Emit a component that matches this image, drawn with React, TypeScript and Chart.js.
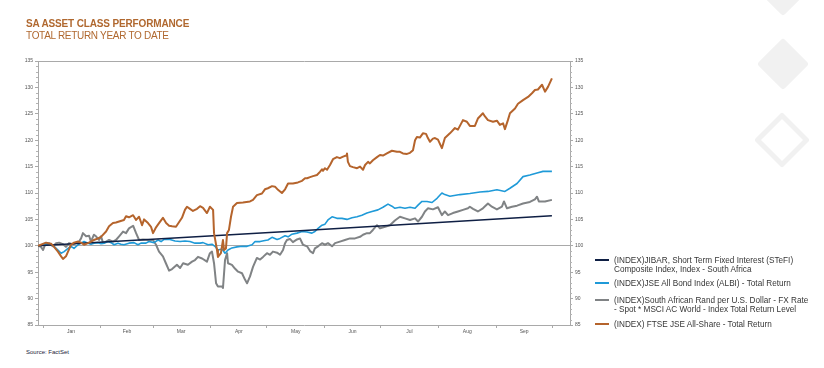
import React, { useEffect, useRef } from 'react';
import { Chart, registerables } from 'chart.js';

Chart.register(...registerables);

const FONT = '"Liberation Sans", Arial, sans-serif';

const titleText = 'SA ASSET CLASS PERFORMANCE';
const subtitleText = 'TOTAL RETURN YEAR TO DATE';
const sourceText = 'Source: FactSet';

const monthLabels = ['Jan', 'Feb', 'Mar', 'Apr', 'May', 'Jun', 'Jul', 'Aug', 'Sep'];
const monthMidDays = [15, 45, 74, 105, 135.5, 166, 196.5, 227.5, 258];
const monthStartDays = [0, 31, 59, 90, 120, 151, 181, 212, 243, 273];
const xMin = -2.7;
const xMax = 282.6;
const yMin = 85;
const yMax = 135;
const yStep = 5;

const seriesNames = [
  ['(INDEX)JIBAR, Short Term Fixed Interest (STeFI)', 'Composite Index, Index - South Africa'],
  ['(INDEX)JSE All Bond Index (ALBI) - Total Return'],
  ['(INDEX)South African Rand per U.S. Dollar - FX Rate', '- Spot * MSCI AC World - Index Total Return Level'],
  ['(INDEX) FTSE JSE All-Share - Total Return'],
];
const seriesColors = ['#0f1f44', '#1f9ad8', '#808385', '#b5642c'];

// [day of year, index level]
const jibarSeries: [number, number][] = [
  [-2.7, 100.0], [68.1, 101.45], [137.8, 102.85], [207.5, 104.3], [272.9, 105.7],
];

const albiSeries: [number, number][] = [
  [-2.7, 100.0], [0, 100.2], [3.2, 100.5], [5.9, 99.9], [8.0, 99.2], [9.7, 98.6], [11.3, 98.9], [13.4, 99.5],
  [15.0, 99.9], [16.6, 99.5], [18.8, 100.2], [20.4, 100.5], [22.0, 100.8], [24.1, 100.5], [25.7, 100.3],
  [27.3, 100.5], [29.5, 100.6], [31.1, 100.4], [32.7, 100.5], [34.9, 100.8], [36.5, 100.6], [38.1, 100.2],
  [40.2, 100.5], [41.8, 100.3], [43.4, 100.2], [46.1, 100.5], [48.8, 100.6], [50.9, 100.2], [52.5, 100.5],
  [55.2, 100.5], [56.8, 100.8], [59.5, 100.6], [61.7, 101.1], [63.3, 100.8], [64.9, 101.2], [68.1, 101.2],
  [70.8, 100.9], [73.5, 100.8], [76.1, 100.9], [78.8, 100.8], [81.5, 100.5], [84.2, 100.5], [85.8, 100.6],
  [88.5, 100.2], [90.6, 100.3], [92.2, 99.9], [93.8, 99.2], [96.0, 99.4], [97.6, 98.6], [99.2, 99.2],
  [101.3, 99.6], [104.0, 99.8], [106.7, 99.9], [109.4, 99.9], [112.1, 100.2], [113.7, 100.8], [116.4, 100.8],
  [119.0, 101.0], [120.6, 101.1], [122.8, 101.6], [125.5, 101.2], [127.1, 101.4], [129.8, 101.9],
  [131.4, 101.7], [133.5, 102.2], [136.2, 102.4], [138.9, 102.7], [141.6, 102.6], [144.2, 102.4],
  [145.8, 102.7], [147.5, 103.3], [149.6, 103.9], [151.2, 104.1], [152.8, 104.9], [155.0, 105.5],
  [157.6, 105.2], [160.3, 105.2], [163.0, 105.0], [165.7, 105.3], [168.4, 105.5], [171.0, 105.8],
  [173.7, 106.2], [176.4, 106.5], [179.6, 106.8], [182.3, 107.3], [185.0, 107.9], [187.1, 107.5],
  [188.7, 107.1], [191.4, 107.3], [194.1, 107.1], [196.8, 107.3], [199.5, 107.1], [201.1, 107.7],
  [203.2, 108.4], [205.9, 108.4], [208.6, 108.2], [211.3, 109.0], [213.9, 110.0], [215.5, 109.7],
  [218.2, 109.4], [223.6, 109.7], [228.9, 109.9], [234.3, 110.2], [238.6, 110.3], [243.4, 110.6],
  [247.7, 110.3], [250.4, 110.9], [254.2, 111.8], [257.4, 113.1], [261.1, 113.4], [264.9, 113.8],
  [268.1, 114.1], [272.9, 114.1],
];

const randMsciSeries: [number, number][] = [
  [-2.7, 100.0], [-1.1, 99.8], [0, 99.2], [1.1, 100.2], [3.2, 100.4], [5.4, 99.9], [7.0, 100.5], [8.6, 100.6],
  [10.7, 100.3], [12.3, 99.8], [13.9, 100.5], [16.1, 100.3], [17.7, 100.5], [19.3, 100.8], [20.4, 101.4],
  [21.4, 102.4], [23.1, 101.8], [24.7, 101.9], [25.7, 100.8], [27.3, 102.1], [28.4, 101.8], [30.0, 101.1],
  [31.1, 101.8], [32.2, 100.5], [33.8, 100.8], [35.4, 101.1], [37.5, 100.8], [39.1, 101.1], [40.8, 101.8],
  [42.9, 102.7], [44.5, 102.4], [46.1, 103.3], [48.3, 103.8], [49.9, 102.4], [51.5, 101.1], [53.6, 101.2],
  [56.3, 101.1], [59.0, 101.1], [60.6, 100.2], [62.2, 98.9], [64.3, 98.0], [66.0, 96.6], [67.6, 95.3],
  [69.2, 95.6], [71.8, 96.4], [73.5, 95.8], [75.1, 96.7], [77.7, 96.4], [79.9, 97.0], [81.5, 97.3],
  [83.1, 97.9], [85.3, 97.6], [87.9, 97.0], [89.5, 98.6], [90.6, 98.9], [91.7, 96.7], [92.8, 92.9],
  [93.8, 92.3], [96.0, 92.3], [96.5, 92.0], [97.6, 97.3], [98.7, 98.6], [99.2, 96.7], [101.3, 96.4],
  [102.9, 95.7], [104.6, 95.1], [106.7, 94.8], [108.3, 93.6], [109.4, 92.9], [111.0, 94.2], [112.6, 96.0],
  [114.7, 97.7], [116.4, 97.4], [118.0, 97.9], [120.1, 98.6], [121.7, 98.3], [123.3, 98.9], [125.5, 98.7],
  [127.1, 98.3], [128.7, 99.2], [129.8, 100.5], [130.8, 101.1], [132.4, 101.3], [134.0, 100.7],
  [136.2, 101.2], [137.8, 101.4], [139.4, 100.2], [141.6, 99.9], [143.2, 99.0], [144.8, 98.6],
  [145.8, 99.5], [147.5, 99.9], [149.6, 100.5], [151.2, 100.2], [152.8, 100.5], [155.0, 99.9],
  [156.6, 100.5], [159.2, 100.8], [161.9, 101.1], [164.6, 101.4], [167.3, 101.4], [170.0, 101.7],
  [171.6, 102.1], [173.7, 102.4], [175.3, 102.4], [176.9, 103.0], [179.1, 103.9], [180.7, 103.3],
  [183.4, 103.6], [186.0, 103.9], [188.7, 104.8], [191.4, 105.5], [194.1, 105.2], [196.8, 104.9],
  [199.5, 105.2], [201.1, 104.6], [203.2, 105.5], [204.8, 106.5], [206.4, 107.1], [209.1, 106.9],
  [211.8, 107.3], [213.9, 105.8], [215.5, 106.5], [217.2, 105.8], [219.8, 106.2], [222.5, 106.5],
  [225.2, 106.8], [227.9, 107.1], [228.9, 107.4], [230.6, 107.0], [233.2, 106.5], [235.9, 107.1],
  [238.6, 108.0], [240.7, 107.4], [243.4, 106.9], [246.1, 107.4], [247.2, 108.4], [248.8, 107.1],
  [251.5, 107.4], [254.2, 107.6], [257.4, 108.0], [261.1, 108.3], [263.8, 108.8], [264.9, 109.3],
  [265.9, 108.4], [269.2, 108.4], [272.9, 108.7],
];

const ftseJseSeries: [number, number][] = [
  [-2.7, 100.0], [1.6, 100.6], [4.3, 100.4], [5.9, 99.8], [8.0, 98.9], [9.7, 98.0], [10.7, 97.5], [12.3, 98.0],
  [13.4, 98.9], [15.0, 100.2], [16.6, 100.6], [18.8, 100.8], [20.4, 100.6], [22.0, 100.2], [24.1, 100.5],
  [25.7, 100.8], [27.3, 101.1], [29.5, 101.4], [31.1, 101.7], [33.8, 102.7], [35.4, 103.7], [37.5, 104.3],
  [39.1, 104.4], [40.8, 104.6], [43.4, 104.9], [44.5, 105.6], [46.1, 105.4], [48.3, 105.8], [49.9, 104.9],
  [51.5, 105.5], [53.1, 103.9], [54.2, 105.0], [56.3, 104.3], [57.9, 103.6], [59.0, 102.4], [60.6, 103.5],
  [62.2, 104.3], [64.3, 105.3], [66.0, 104.3], [67.6, 103.8], [69.2, 103.7], [71.3, 103.6], [74.5, 105.3],
  [76.1, 106.8], [77.2, 107.4], [78.8, 107.0], [80.4, 106.6], [82.6, 107.0], [84.2, 107.5], [85.8, 107.2],
  [87.9, 106.2], [89.5, 107.4], [91.2, 106.8], [91.7, 102.4], [93.3, 99.2], [93.8, 97.9], [95.4, 98.6],
  [96.5, 101.1], [97.1, 99.2], [98.1, 99.5], [98.7, 102.4], [99.7, 103.0], [100.8, 105.5], [101.9, 107.4],
  [104.0, 108.1], [107.2, 108.2], [111.0, 108.4], [112.6, 108.7], [114.7, 109.6], [117.4, 109.9],
  [119.0, 110.7], [120.6, 110.9], [122.8, 111.3], [124.4, 111.2], [126.0, 110.6], [128.1, 110.0],
  [129.8, 110.7], [131.4, 111.8], [134.0, 111.8], [136.7, 112.0], [138.9, 112.3], [140.5, 112.8],
  [141.6, 112.8], [143.2, 113.0], [144.8, 113.2], [146.9, 113.4], [148.5, 114.0], [149.6, 114.5],
  [150.1, 114.2], [151.2, 114.7], [152.3, 114.4], [153.9, 115.3], [155.5, 116.4], [157.6, 116.8],
  [159.2, 116.6], [160.9, 116.9], [162.5, 117.1], [163.0, 117.5], [163.5, 115.9], [164.6, 115.1],
  [166.2, 114.9], [168.4, 114.7], [170.0, 115.0], [171.6, 114.4], [172.7, 115.3], [174.3, 115.9],
  [175.3, 115.6], [176.9, 116.2], [179.1, 116.8], [180.7, 117.2], [182.3, 117.1], [184.4, 117.5],
  [187.1, 118.0], [189.8, 117.8], [191.4, 117.8], [193.0, 117.5], [195.2, 117.4], [196.8, 117.6],
  [198.4, 118.1], [199.5, 120.0], [200.5, 120.6], [202.1, 120.5], [203.7, 121.3], [205.4, 121.2],
  [206.4, 120.4], [207.5, 119.7], [209.1, 120.3], [210.2, 120.4], [211.8, 120.1], [213.9, 118.5],
  [215.5, 120.4], [218.2, 121.3], [220.9, 122.3], [222.5, 122.0], [225.2, 123.8], [227.3, 123.5],
  [228.9, 122.7], [231.6, 122.7], [233.2, 124.1], [235.9, 125.1], [237.0, 124.5], [238.6, 123.8],
  [241.3, 123.5], [243.4, 123.7], [245.0, 122.9], [246.7, 123.2], [247.7, 122.1], [249.3, 123.8],
  [250.4, 125.1], [253.1, 126.0], [254.7, 126.9], [257.4, 127.6], [260.1, 128.2], [262.2, 128.9],
  [263.8, 129.5], [265.4, 129.6], [267.6, 130.5], [269.2, 129.2], [270.8, 130.1], [272.9, 131.7],
];

const toPoints = (s: [number, number][]) => s.map(([x, y]) => ({ x, y }));

const minorTicksPlugin = {
  id: 'minorTicks',
  afterDraw(chart: any) {
    const { ctx, chartArea, scales } = chart;
    const y = scales.y;
    ctx.save();
    ctx.strokeStyle = '#b4b4b4';
    ctx.lineWidth = 1;
    for (let v = yMin; v <= yMax; v += 1) {
      if (v % yStep === 0) continue;
      const py = Math.round(y.getPixelForValue(v)) + 0.5;
      ctx.beginPath();
      ctx.moveTo(chartArea.left - 2, py);
      ctx.lineTo(chartArea.left, py);
      ctx.moveTo(chartArea.right, py);
      ctx.lineTo(chartArea.right + 2, py);
      ctx.stroke();
    }
    ctx.restore();
  },
};

export default function App() {
  const canvasRef = useRef<HTMLCanvasElement | null>(null);

  useEffect(() => {
    if (!canvasRef.current) return;
    const axisColor = '#a9a9a9';
    const tickFont = { size: 5, family: FONT };
    const xTickValues = [...monthStartDays, ...monthMidDays].sort((a, b) => a - b);
    const chart = new Chart(canvasRef.current, {
      type: 'line',
      data: {
        datasets: [
          { label: seriesNames[0].join(' '), data: toPoints(jibarSeries), borderColor: seriesColors[0], borderWidth: 1.5, order: 1 },
          { label: seriesNames[1].join(' '), data: toPoints(albiSeries), borderColor: seriesColors[1], borderWidth: 1.6, order: 2 },
          { label: seriesNames[2].join(' '), data: toPoints(randMsciSeries), borderColor: seriesColors[2], borderWidth: 2, order: 3 },
          { label: seriesNames[3].join(' '), data: toPoints(ftseJseSeries), borderColor: seriesColors[3], borderWidth: 2, order: 0 },
        ],
      },
      options: {
        animation: false,
        responsive: false,
        parsing: false as any,
        layout: { padding: { top: 61, left: 0, right: 0, bottom: 0 } },
        plugins: { legend: { display: false }, tooltip: { enabled: false } },
        elements: { point: { radius: 0 }, line: { tension: 0, borderJoinStyle: 'round' } },
        scales: {
          x: {
            type: 'linear',
            min: xMin,
            max: xMax,
            afterBuildTicks: (s: any) => {
              s.ticks = xTickValues.map((v) => ({ value: v }));
            },
            afterFit: (s: any) => {
              s.height = 20;
            },
            ticks: {
              autoSkip: false,
              maxRotation: 0,
              padding: 1,
              font: tickFont,
              color: '#555',
              callback: (value: any) => {
                const i = monthMidDays.indexOf(Number(value));
                return i >= 0 ? monthLabels[i] : '';
              },
            },
            grid: {
              drawOnChartArea: false,
              tickLength: 3,
              tickColor: (ctx: any) => (monthStartDays.includes(ctx.tick?.value) ? axisColor : 'rgba(0,0,0,0)'),
            },
            border: { color: axisColor },
          },
          y: {
            position: 'left',
            min: yMin,
            max: yMax,
            afterFit: (s: any) => {
              s.width = 38;
            },
            ticks: { stepSize: yStep, font: tickFont, color: '#555', padding: 2 },
            grid: {
              drawOnChartArea: true,
              tickLength: 3,
              tickColor: axisColor,
              color: (ctx: any) =>
                ctx.tick && (ctx.tick.value === 100 || ctx.tick.value === yMax) ? axisColor : 'rgba(0,0,0,0)',
            },
            border: { color: axisColor },
          },
          y2: {
            position: 'right',
            min: yMin,
            max: yMax,
            afterFit: (s: any) => {
              s.width = 30;
            },
            ticks: { stepSize: yStep, font: tickFont, color: '#555', padding: 2 },
            grid: { drawOnChartArea: false, tickLength: 3, tickColor: axisColor },
            border: { color: axisColor },
          },
        },
      } as any,
      plugins: [minorTicksPlugin],
    });
    return () => chart.destroy();
  }, []);

  const legendTops = [255.6, 278.6, 295.6, 319.6];
  const diamond = (cx: number, cy: number, h: number) =>
    `${cx},${cy - h} ${cx + h},${cy} ${cx},${cy + h} ${cx - h},${cy}`;

  return (
    <div
      style={{
        position: 'absolute',
        left: 0,
        top: 0,
        width: 824,
        height: 368,
        background: '#fff',
        overflow: 'hidden',
        fontFamily: FONT,
      }}
    >
      <svg width={824} height={368} style={{ position: 'absolute', left: 0, top: 0 }}>
        <polygon points={diamond(783, -10, 22)} fill="#f1f1f1" stroke="#f1f1f1" strokeWidth={6} strokeLinejoin="round" />
        <polygon points={diamond(783, 64, 22)} fill="#f1f1f1" stroke="#f1f1f1" strokeWidth={6} strokeLinejoin="round" />
        <polygon points={diamond(782, 140, 24.5)} fill="none" stroke="#f1f1f1" strokeWidth={5} strokeLinejoin="round" />
      </svg>
      <canvas
        ref={canvasRef}
        width={600}
        height={345}
        style={{ position: 'absolute', left: 0, top: 0, display: 'block' }}
      />
      <div
        style={{
          position: 'absolute',
          left: 26,
          top: 18.2,
          fontSize: 10,
          lineHeight: '12px',
          fontWeight: 'bold',
          color: '#b0682f',
          letterSpacing: '-0.15px',
          whiteSpace: 'nowrap',
        }}
      >
        {titleText}
      </div>
      <div
        style={{
          position: 'absolute',
          left: 26,
          top: 30,
          fontSize: 10,
          lineHeight: '12px',
          color: '#b0682f',
          letterSpacing: '-0.3px',
          whiteSpace: 'nowrap',
        }}
      >
        {subtitleText}
      </div>
      {seriesNames.map((lines, i) => (
        <div key={i}>
          <div
            style={{
              position: 'absolute',
              left: 595,
              top: legendTops[i] + 3.3,
              width: 14,
              height: 2.5,
              background: seriesColors[i],
            }}
          />
          <div
            style={{
              position: 'absolute',
              left: 614,
              top: legendTops[i],
              fontSize: 8.2,
              lineHeight: '9px',
              color: '#363636',
              whiteSpace: 'nowrap',
            }}
          >
            {lines.map((l, j) => (
              <div key={j}>{l}</div>
            ))}
          </div>
        </div>
      ))}
      <div
        style={{
          position: 'absolute',
          left: 26,
          top: 348,
          fontSize: 6,
          lineHeight: '8px',
          color: '#1c1c3a',
          whiteSpace: 'nowrap',
        }}
      >
        {sourceText}
      </div>
    </div>
  );
}
